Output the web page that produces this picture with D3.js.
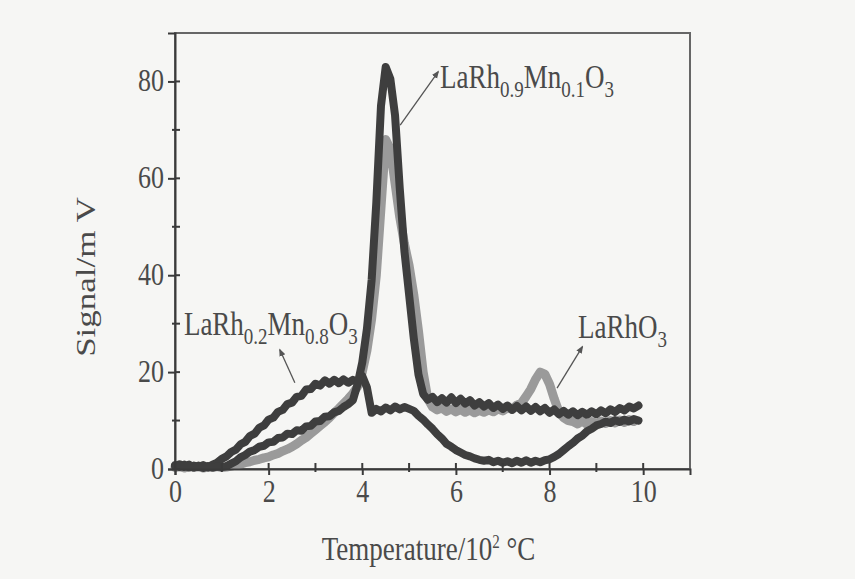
<!DOCTYPE html>
<html><head><meta charset="utf-8">
<script src="https://cdn.jsdelivr.net/npm/d3@7"></script>
<style>body{margin:0;background:#f7f7f5;}</style>
</head><body>
<svg id="chart" width="855" height="579"></svg>
<script>
// Temperature (10^2 °C)
const temps = [0.0,0.1,0.2,0.3,0.4,0.5,0.6,0.7,0.8,0.9,1.0,1.1,1.2,1.3,1.4,1.5,1.6,1.7,1.8,1.9,
  2.0,2.1,2.2,2.3,2.4,2.5,2.6,2.7,2.8,2.9,3.0,3.1,3.2,3.3,3.4,3.5,3.6,3.7,3.8,3.9,
  4.0,4.1,4.2,4.3,4.4,4.5,4.6,4.7,4.8,4.9,5.0,5.1,5.2,5.3,5.4,5.5,5.6,5.7,5.8,5.9,
  6.0,6.1,6.2,6.3,6.4,6.5,6.6,6.7,6.8,6.9,7.0,7.1,7.2,7.3,7.4,7.5,7.6,7.7,7.8,7.9,
  8.0,8.1,8.2,8.3,8.4,8.5,8.6,8.7,8.8,8.9,9.0,9.1,9.2,9.3,9.4,9.5,9.6,9.7,9.8,9.9];

// LaRh0.2Mn0.8O3 (dark)
const signalRh02Mn08 = [0.8,0.4,0.9,0.3,0.7,0.4,0.8,0.3,0.9,1.3,2.1,2.6,3.5,4.0,5.1,5.6,6.8,7.3,8.5,9.0,
  10.2,10.6,11.8,12.2,13.4,13.7,14.9,15.1,16.4,16.5,17.6,17.2,18.3,17.6,18.4,17.7,18.5,17.8,18.4,18.0,
  19.2,16.8,11.6,12.4,11.9,12.7,12.1,12.9,12.3,12.8,12.4,12.0,11.0,10.2,9.2,8.3,7.2,6.3,5.2,4.6,
  3.9,3.4,2.9,2.6,2.2,1.9,1.7,1.9,1.4,1.7,1.3,1.6,1.2,1.7,1.3,1.8,1.3,1.7,1.4,1.8,
  2.0,2.5,3.1,3.9,4.7,5.4,6.3,6.9,7.8,8.3,9.0,9.3,9.8,9.5,10.1,9.7,10.2,9.8,10.3,10.0];

// LaRh0.9Mn0.1O3 (dark, big peak)
const signalRh09Mn01 = [0.6,1.0,0.4,0.9,0.3,0.7,0.2,0.6,0.3,0.5,0.4,0.6,1.1,1.6,2.4,2.9,3.6,3.9,4.6,4.8,
  5.5,5.6,6.4,6.5,7.3,7.2,8.0,7.9,8.8,8.9,9.8,9.9,10.8,10.9,11.7,12.0,12.8,13.4,14.2,17.5,
  22.0,29.0,39.0,55.0,75.0,83.0,80.5,73.0,58.0,45.0,36.0,27.0,19.5,15.5,14.3,14.9,13.8,14.6,13.7,14.8,
  13.6,14.5,13.5,14.2,13.1,13.8,12.9,13.6,12.6,13.3,12.4,13.1,12.2,13.0,12.1,12.9,12.0,12.8,11.9,12.6,
  11.6,12.3,11.3,12.0,11.2,11.9,11.1,11.8,11.2,11.9,11.3,12.1,11.5,12.3,11.8,12.6,12.1,12.9,12.5,13.1];

// LaRhO3 (gray)
const signalRhO3 = [0.3,0.5,0.2,0.6,0.3,0.5,0.2,0.4,0.3,0.5,0.3,0.4,0.6,0.8,1.0,1.3,1.5,1.8,2.0,2.3,
  2.5,2.9,3.2,3.7,4.1,4.6,5.2,5.9,6.5,7.3,8.1,8.9,9.7,10.6,11.6,12.5,13.5,14.5,15.6,17.0,
  20.0,24.5,31.0,40.0,54.0,68.0,66.0,59.0,52.0,46.5,42.0,36.0,28.5,20.0,14.5,12.8,12.2,12.6,11.9,12.4,
  11.8,12.3,11.7,12.2,11.6,12.1,11.7,12.2,11.8,12.4,12.0,12.6,12.3,13.2,13.6,15.0,16.5,18.5,20.0,19.6,
  17.5,14.5,11.8,10.6,10.0,9.8,9.3,9.9,9.2,9.8,9.3,9.9,9.4,10.0,9.5,10.1,9.6,10.2,9.8];

const xTicks = [0,2,4,6,8,10];
const xMinor = [1,3,5,7,9];
const yTicks = [0,20,40,60,80];
const yMinor = [10,30,50,70];

// annotations: label anchor and arrow (tail on curve, head at label), in data units
const labelTexts = [
  [["LaRh",0],["0.9",1],["Mn",0],["0.1",1],["O",0],["3",1]],
  [["LaRh",0],["0.2",1],["Mn",0],["0.8",1],["O",0],["3",1]],
  [["LaRhO",0],["3",1]]
];
const labelPos = [[5.66,78.7],[0.19,27.7],[8.61,27.0]];
const arrowFrom = [[4.81,71.0],[2.56,17.8],[8.16,16.7]];
const arrowTo = [[5.62,82.0],[2.24,24.6],[8.70,25.2]];

const W = 855, H = 579;
const m = {left:175, top:33, right:690, bottom:469};
const svg = d3.select("#chart");
svg.append("rect").attr("width",W).attr("height",H).attr("fill","#f6f6f4");

const x = d3.scaleLinear().domain([0,11]).range([m.left,m.right]);
const y = d3.scaleLinear().domain([0,90]).range([m.bottom,m.top]);

const axisColor = "#3a3a3a";
const textColor = "#4a4a4a";
const font = "'Liberation Serif','Times New Roman',serif";
const stretch = 1.25;

// frame
svg.append("rect").attr("x",m.left).attr("y",m.top)
  .attr("width",m.right-m.left).attr("height",m.bottom-m.top)
  .attr("fill","none").attr("stroke","#666").attr("stroke-width",2);

// lines
const line = d3.line().x(d=>x(d[0])).y(d=>y(d[1])).curve(d3.curveLinear);
function pairs(vals){ return vals.map((v,i)=>[temps[i],v]); }
const g = svg.append("g");
g.append("path").datum(pairs(signalRhO3)).attr("d",line)
  .attr("fill","none").attr("stroke","#9a9a9a").attr("stroke-width",9).attr("stroke-linejoin","round").attr("stroke-linecap","round");
g.append("path").datum(pairs(signalRh02Mn08)).attr("d",line)
  .attr("fill","none").attr("stroke","#3e3e3e").attr("stroke-width",8).attr("stroke-linejoin","round").attr("stroke-linecap","round");
g.append("path").datum(pairs(signalRh09Mn01)).attr("d",line)
  .attr("fill","none").attr("stroke","#3e3e3e").attr("stroke-width",8).attr("stroke-linejoin","round").attr("stroke-linecap","round");

// axes
const xAxisG = svg.append("g").attr("transform",`translate(0,${m.bottom})`)
  .call(d3.axisBottom(x).tickValues(xTicks).tickSize(6).tickPadding(8).tickFormat(d3.format("d")));
const yAxisG = svg.append("g").attr("transform",`translate(${m.left},0)`)
  .call(d3.axisLeft(y).tickValues(yTicks).tickSize(7).tickPadding(4).tickFormat(d3.format("d")));
[xAxisG,yAxisG].forEach(a=>{
  a.select(".domain").attr("stroke",axisColor).attr("stroke-width",2);
  a.selectAll(".tick line").attr("stroke",axisColor).attr("stroke-width",2);
  a.selectAll(".tick text").attr("fill",textColor).style("font-family",font).style("font-size","26px");
});
xAxisG.selectAll(".tick text").attr("dy",null).attr("y",0)
  .attr("transform",`translate(0,33) scale(1,${stretch})`);
yAxisG.selectAll(".tick text").attr("dy",null).attr("x",0)
  .attr("transform",`translate(-11,9) scale(1,${stretch})`);
// inward ticks
svg.append("g").selectAll("line").data(xTicks.concat(xMinor)).join("line")
  .attr("x1",d=>x(d)).attr("x2",d=>x(d)).attr("y1",m.bottom).attr("y2",m.bottom-6)
  .attr("stroke",axisColor).attr("stroke-width",2);
svg.append("g").selectAll("line").data(xMinor).join("line")
  .attr("x1",d=>x(d)).attr("x2",d=>x(d)).attr("y1",m.bottom).attr("y2",m.bottom+3)
  .attr("stroke",axisColor).attr("stroke-width",2);
svg.append("g").selectAll("line").data(yTicks.concat(yMinor)).join("line")
  .attr("y1",d=>y(d)).attr("y2",d=>y(d)).attr("x1",m.left).attr("x2",m.left+5)
  .attr("stroke",axisColor).attr("stroke-width",2);
svg.append("g").selectAll("line").data(yMinor).join("line")
  .attr("y1",d=>y(d)).attr("y2",d=>y(d)).attr("x1",m.left).attr("x2",m.left-3)
  .attr("stroke",axisColor).attr("stroke-width",2);

// axis titles
const xt = svg.append("text").attr("transform",`translate(${(m.left+m.right)/2-4},560) scale(1,${stretch})`)
  .attr("text-anchor","middle").attr("fill",textColor).style("font-family",font).style("font-size","27px");
xt.append("tspan").text("Temperature/10");
xt.append("tspan").text("2").attr("dy",-10).style("font-size","15px");
xt.append("tspan").text(" \u00B0C").attr("dy",10);

svg.append("text").attr("transform",`translate(95,${(m.top+m.bottom)/2+26}) rotate(-90) scale(${stretch},1)`)
  .attr("text-anchor","middle").attr("fill",textColor).style("font-family",font).style("font-size","28px")
  .text("Signal/m V");

// arrows
svg.append("defs").append("marker").attr("id","ah").attr("viewBox","0 0 10 10")
  .attr("refX",8).attr("refY",5).attr("markerWidth",6).attr("markerHeight",6).attr("orient","auto")
  .append("path").attr("d","M0,1 L10,5 L0,9 Z").attr("fill","#555");
svg.append("g").selectAll("line").data(arrowFrom).join("line")
  .attr("x1",d=>x(d[0])).attr("y1",d=>y(d[1]))
  .attr("x2",(d,i)=>x(arrowTo[i][0])).attr("y2",(d,i)=>y(arrowTo[i][1]))
  .attr("stroke","#555").attr("stroke-width",1.3).attr("marker-end","url(#ah)");

// labels
labelTexts.forEach((parts,i)=>{
  const t = svg.append("text").attr("transform",`translate(${x(labelPos[i][0])},${y(labelPos[i][1])}) scale(1,${stretch})`)
    .attr("fill",textColor).style("font-family",font).style("font-size","27px");
  let sub = false;
  parts.forEach(([s,isSub])=>{
    const ts = t.append("tspan").text(s);
    if(isSub){ ts.style("font-size","19px"); }
    if(isSub && !sub){ ts.attr("dy",7); sub=true; }
    else if(!isSub && sub){ ts.attr("dy",-7); sub=false; }
  });
});
</script>
</body></html>
